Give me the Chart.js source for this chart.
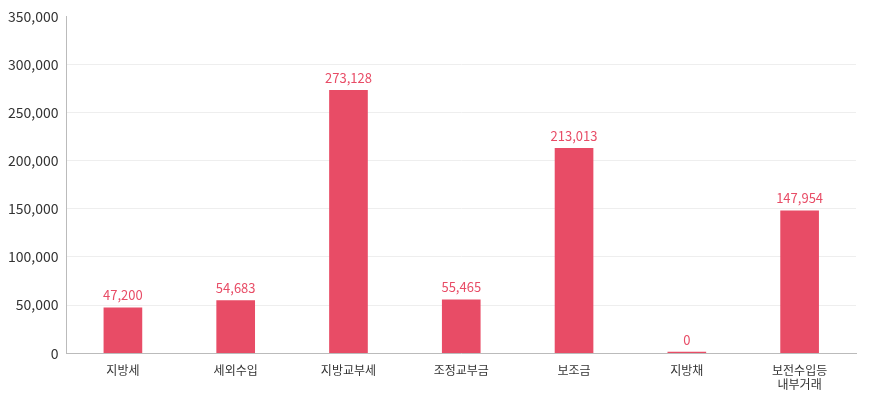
<!DOCTYPE html>
<html>
<head>
<meta charset="utf-8">
<script src="https://cdn.jsdelivr.net/npm/chart.js@4"></script>
<style>
  html, body { margin: 0; padding: 0; background: #fff; }
  #wrap { width: 886px; height: 420px; }
</style>
</head>
<body>
<div id="wrap"><canvas id="chart"></canvas></div>
<script>
let categories = ['지방세', '세외수입', '지방교부세', '조정교부금', '보조금', '지방채', ['보전수입등', '내부거래']];
let amounts = [47200, 54683, 273128, 55465, 213013, 0, 147954];
let yTicks = [0, 50000, 100000, 150000, 200000, 250000, 300000, 350000];

const fontFamily = "'Noto Sans CJK KR', 'Noto Sans', sans-serif";

// value labels above each bar
const valueLabels = {
  id: 'valueLabels',
  afterDatasetsDraw(chart) {
    let ctx = chart.ctx;
    let meta = chart.getDatasetMeta(0);
    ctx.save();
    ctx.font = '13px ' + fontFamily;
    ctx.fillStyle = '#e84c66';
    ctx.textAlign = 'center';
    ctx.textBaseline = 'bottom';
    meta.data.forEach((bar, i) => {
      ctx.fillText(amounts[i].toLocaleString('en-US'), bar.x, bar.y - 6);
    });
    ctx.restore();
  }
};

new Chart('chart', {
  type: 'bar',
  data: {
    labels: categories,
    datasets: [{
      data: amounts,
      backgroundColor: '#e84c66',
      borderColor: '#777',
      minBarLength: 1,
      barThickness: 38
    }]
  },
  options: {
    responsive: true,
    maintainAspectRatio: false,
    animation: false,
    layout: { padding: { top: 5, right: 30, left: 0, bottom: 18 } },
    plugins: { legend: { display: false }, tooltip: { enabled: false } },
    scales: {
      x: {
        grid: { display: false, drawTicks: false },
        border: { color: '#bbb' },
        ticks: { color: '#333', font: { family: fontFamily, size: 12 }, padding: 10 }
      },
      y: {
        min: 0, max: 350000,
        afterBuildTicks: axis => { axis.ticks = yTicks.map(v => ({ value: v })); },
        grid: {
          color: ctx => (ctx.tick && ctx.tick.value === 350000) ? 'rgba(0,0,0,0)' : '#eeeeee',
          drawTicks: false
        },
        border: { color: '#bbb' },
        ticks: {
          color: '#333',
          font: { family: fontFamily, size: 14 },
          padding: 8,
          callback: v => v.toLocaleString('en-US')
        }
      }
    }
  },
  plugins: [valueLabels]
});
</script>
</body>
</html>
